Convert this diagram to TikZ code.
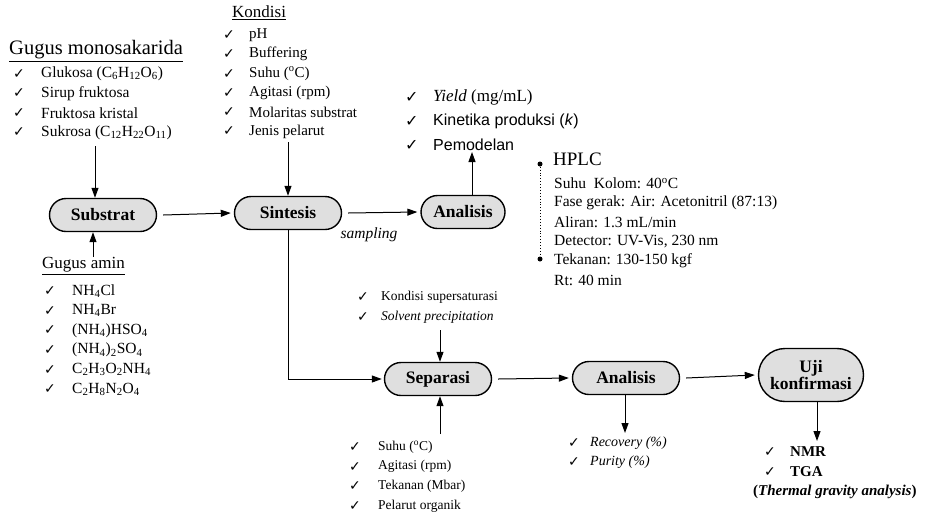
\documentclass[tikz,border=0pt]{standalone}
\usepackage{fontspec}
\setmainfont{Liberation Serif}
\newfontfamily\dvs{DejaVu Sans}
\newfontfamily\lsans{Liberation Sans}
\usetikzlibrary{arrows.meta,shapes.misc}
\begin{document}
\begin{tikzpicture}[x=1pt,y=-1pt,
  proc/.style={rounded rectangle, draw, line width=1.4pt, fill=gray!25, font=\bfseries\fontsize{17.5}{19}\selectfont, minimum height=33pt, minimum width=115pt, inner xsep=4pt},
  arr/.style={-{Triangle[length=10pt,width=7pt]}, line width=1pt},
  item/.style={anchor=west, inner sep=0pt, font=\fontsize{13.5}{15}\selectfont},
  itemL/.style={anchor=west, inner sep=0pt, font=\fontsize{15.5}{17}\selectfont},
  chk/.style={anchor=west, inner sep=0pt, font=\dvs\fontsize{14}{16}\selectfont},
  ttl/.style={anchor=west, inner sep=0pt, font=\fontsize{17}{19}\selectfont},
  big/.style={anchor=west, inner sep=0pt, font=\fontsize{17}{19}\selectfont},
  dotnode/.style={circle, fill, inner sep=0pt, minimum size=5pt}
]
\useasboundingbox[fill=white] (0,0) rectangle (934,515);

% ---- Gugus monosakarida
\node[ttl, font=\fontsize{20.5}{22}\selectfont] (mono) at (9,51) {\underline{Gugus monosakarida}};
\foreach \t [count=\i from 0] in {{Glukosa (C\textsubscript{6}H\textsubscript{12}O\textsubscript{6})},{Sirup fruktosa},{Fruktosa kristal},{Sukrosa (C\textsubscript{12}H\textsubscript{22}O\textsubscript{11})}}{
  \node[chk] (mc\i) at (13,{74+19.5*\i}) {✓};
  \node[itemL] (mi\i) at (41,{74+19.5*\i}) {\t};
}
\coordinate (monoB) at (95,146);

% ---- Gugus amin
\node[ttl] (amin) at (42,266) {\underline{Gugus amin}};
\foreach \t [count=\i from 0] in {{NH\textsubscript{4}Cl},{NH\textsubscript{4}Br},{(NH\textsubscript{4})HSO\textsubscript{4}},{(NH\textsubscript{4})\textsubscript{2}SO\textsubscript{4}},{C\textsubscript{2}H\textsubscript{3}O\textsubscript{2}NH\textsubscript{4}},{C\textsubscript{2}H\textsubscript{8}N\textsubscript{2}O\textsubscript{4}}}{
  \node[chk] (ac\i) at (44,{291+19.7*\i}) {✓};
  \node[itemL] (ai\i) at (72,{291+19.7*\i}) {\t};
}
\coordinate (aminT) at (93,257);

% ---- Kondisi
\node[ttl] (kond) at (232,13) {\underline{Kondisi}};
\foreach \t [count=\i from 0] in {{pH},{Buffering},{Suhu (\textsuperscript{o}C)},{Agitasi (rpm)},{Molaritas substrat},{Jenis pelarut}}{
  \node[chk] (kc\i) at (223,{35+19.3*\i}) {✓};
  \node[item, font=\fontsize{15}{17}\selectfont] (ki\i) at (249,{35+19.3*\i}) {\t};
}
\coordinate (kondB) at (288,142);

% ---- process nodes, row 1
\node[proc] (sub) at (103,215) {Substrat};
\node[proc] (sin) at (288,213) {Sintesis};
\node[proc, minimum width=92pt] (ana1) at (463,212) {Analisis};
\node[anchor=center, inner sep=0pt, font=\itshape\fontsize{15.5}{17}\selectfont] (samp) at (369,235) {sampling};

% ---- Yield list
\node[chk, font=\dvs\fontsize{16}{18}\selectfont] (yc0) at (405,97) {✓};
\node[big] (yi0) at (433,97) {\textit{Yield} (mg/mL)};
\node[chk, font=\dvs\fontsize{16}{18}\selectfont] (yc1) at (405,121) {✓};
\node[big, font=\lsans\fontsize{16}{19}\selectfont] (yi1) at (433,121) {Kinetika produksi (\textit{k})};
\node[chk, font=\dvs\fontsize{16}{18}\selectfont] (yc2) at (405,145) {✓};
\node[big, font=\lsans\fontsize{16}{19}\selectfont] (yi2) at (433,145) {Pemodelan};
\coordinate (yieldB) at (472,152);

% ---- HPLC
\node[big, font=\fontsize{19}{21}\selectfont] (hplc) at (553,159) {HPLC};
\node[dotnode] (d1) at (540,164) {};
\node[dotnode] (d2) at (540,259) {};
\foreach \t [count=\i from 0] in {{Suhu\ \ Kolom: 40\textsuperscript{o}C},{Fase gerak: Air: Acetonitril (87:13)},{Aliran: 1.3 mL/min},{Detector: UV-Vis, 230 nm},{Tekanan: 130-150 kgf},{Rt: 40 min}}{
  \node[item, font=\fontsize{15.5}{17}\selectfont] (hi\i) at (554,{183+19.4*\i}) {\t};
}

% ---- row 2
\node[proc] (sep) at (438,379) {Separasi};
\node[proc] (ana2) at (626,378) {Analisis};
\node[proc, minimum width=113pt, minimum height=53pt, align=center, font=\bfseries\fontsize{17.5}{17}\selectfont] (uji) at (811,375) {Uji\\konfirmasi};

% supersaturasi
\node[chk] (sc0) at (357,297) {✓};
\node[item] (si0) at (381,297) {Kondisi supersaturasi};
\node[chk] (sc1) at (357,317) {✓};
\node[item] (si1) at (381,317) {\textit{Solvent precipitation}};
\coordinate (supB) at (440,330);

% bottom list
\foreach \t [count=\i from 0] in {{Suhu (\textsuperscript{o}C)},{Agitasi (rpm)},{Tekanan (Mbar)},{Pelarut organik}}{
  \node[chk] (bc\i) at (349,{447+19.6*\i}) {✓};
  \node[item] (bi\i) at (378,{447+19.6*\i}) {\t};
}
\coordinate (botT) at (440,434);

% recovery
\node[chk] (rc0) at (568,443) {✓};
\node[item, font=\fontsize{14}{16}\selectfont] (ri0) at (590,443) {\textit{Recovery (\%)}};
\node[chk] (rc1) at (568,462) {✓};
\node[item, font=\fontsize{14}{16}\selectfont] (ri1) at (590,462) {\textit{Purity (\%)}};
\coordinate (recT) at (625,433);

% NMR
\node[chk] (nc0) at (764,452) {✓};
\node[item, font=\bfseries\fontsize{15}{17}\selectfont] (ni0) at (790,452) {NMR};
\node[chk] (nc1) at (764,472) {✓};
\node[item, font=\bfseries\fontsize{15}{17}\selectfont] (ni1) at (790,472) {TGA};
\node[item, font=\bfseries\fontsize{15}{17}\selectfont] (ni2) at (753,492) {(\textit{Thermal gravity analysis})};
\coordinate (nmrT) at (817,441);

% ---- connectors
\draw[arr] (monoB) -- (monoB |- sub.north);
\draw[arr] (aminT) -- (aminT |- sub.south);
\draw[arr] (kondB) -- (kondB |- sin.north);
\draw[arr] ([xshift=6pt]sub.east) -- ([xshift=-3pt]sin.west);
\draw[arr] ([xshift=6pt]sin.east) -- ([xshift=-3pt]ana1.west);
\draw[arr] (ana1.north -| yieldB) -- (yieldB);
\draw[dotted, line width=0.9pt] (d1) -- (d2);
\draw[arr] (sin.south) |- ([xshift=-2pt]sep.west);
\draw[arr] (supB) -- (supB |- sep.north);
\draw[arr] (botT) -- (botT |- sep.south);
\draw[arr] ([xshift=6pt]sep.east) -- ([xshift=-3pt]ana2.west);
\draw[arr] ([xshift=6pt]ana2.east) -- ([xshift=-3pt]uji.west);
\draw[arr] (ana2.south -| recT) -- (recT);
\draw[arr] (uji.south -| nmrT) -- (nmrT);
\end{tikzpicture}
\end{document}
